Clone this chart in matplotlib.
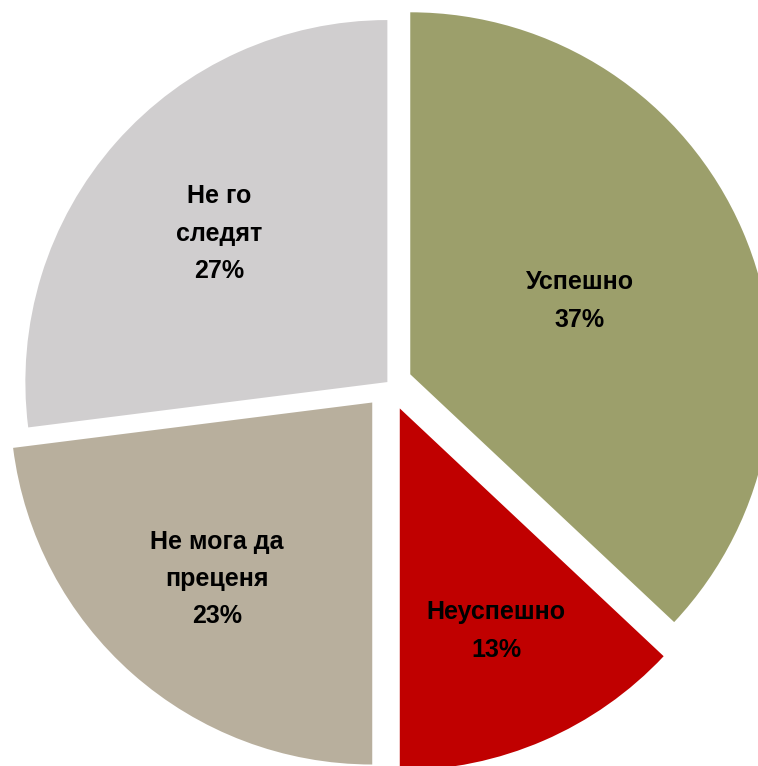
import numpy as np
import matplotlib.pyplot as plt

labels = ["Успешно", "Неуспешно", "Не мога да\nпреценя", "Не го\nследят"]
shares = [37, 13, 23, 27]
colors = ["#9C9F6B", "#C00000", "#B8AF9D", "#D0CECF"]
explode = [0.064, 0.075, 0.07, 0.006]
label_r = [0.51, 0.67, 0.65, 0.62]

plt.rcParams["font.family"] = ["Liberation Sans", "DejaVu Sans"]

fig = plt.figure(figsize=(7.58, 7.66), dpi=100)
ax = fig.add_axes([0, 0, 1, 1])

R = 362
cx, cy = 389, 766 - 383.5

# pie explode is in data units, so scale by radius
wedges, _ = ax.pie(
    shares,
    colors=colors,
    explode=[e * R for e in explode],
    startangle=90,
    counterclock=False,
    radius=R,
    center=(cx, cy),
    frame=True,
    wedgeprops={"linewidth": 0},
)
ax.set_xlim(0, 758)
ax.set_ylim(0, 766)
ax.axis("off")

for w, lab, s, lr, ex in zip(wedges, labels, shares, label_r, explode):
    mid = np.deg2rad((w.theta1 + w.theta2) / 2)
    r = R * (lr + ex)
    ax.text(cx + r * np.cos(mid), cy + r * np.sin(mid), f"{lab}\n{s}%",
            ha="center", va="center", fontsize=18, fontweight="bold",
            linespacing=1.7, color="black")

fig.savefig("out.png", dpi=100)
